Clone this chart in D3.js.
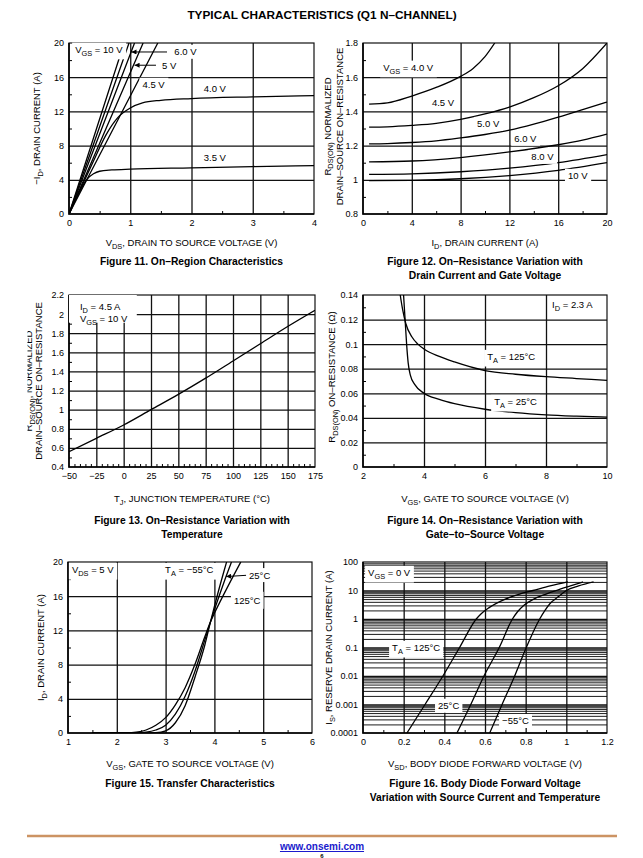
<!DOCTYPE html>
<html><head><meta charset="utf-8">
<script src="https://cdn.jsdelivr.net/npm/d3@7"></script>
<style>
body{margin:0;background:#fff}
svg{display:block}
text{font-family:"Liberation Sans",Arial,Helvetica,sans-serif;fill:#000}
</style>
</head><body>
<svg id="c" width="643" height="858"></svg>
<script>
// ---------------- DATA ----------------
// Figure 11: On-Region Characteristics  [VDS (V), -ID (A)]
const f11Vgs10 = [[0,0],[0.45,10],[0.9,20]];
const f11Vgs8  = [[0,0],[0.49,10],[0.98,20]];
const f11Vgs6  = [[0,0],[0.535,10],[1.07,20]];
const f11Vgs5  = [[0,0],[0.605,10],[1.21,20]];
const f11Vgs45 = [[0,0],[0.725,10],[1.45,20]];
const f11Vgs4  = [[0,0],[0.2,3.1],[0.4,6.2],[0.6,9.2],[0.8,11.3],[1.0,12.4],[1.2,13.0],[1.5,13.3],[2,13.5],[3,13.7],[4,13.85]];
const f11Vgs35 = [[0,0],[0.1,1.6],[0.2,3.0],[0.3,4.1],[0.4,4.7],[0.5,5.0],[0.7,5.15],[1,5.25],[2,5.4],[3,5.55],[4,5.65]];
const f11XTicks = [0,1,2,3,4], f11XLabels = ["0","1","2","3","4"];
const f11YTicks = [0,4,8,12,16,20], f11YLabels = ["0","4","8","12","16","20"];

// Figure 12: normalized RDS(on) vs ID  [ID (A), R norm]
const f12Vgs40 = [[0.5,1.443],[2,1.45],[4,1.49],[6,1.54],[8,1.605],[9,1.65],[10,1.72],[10.8,1.8]];
const f12Vgs45 = [[0.5,1.308],[2,1.31],[4,1.318],[6,1.33],[8,1.353],[10,1.385],[12,1.425],[14,1.48],[16,1.55],[18,1.65],[20,1.8]];
const f12Vgs50 = [[0.5,1.21],[2,1.212],[4,1.218],[6,1.228],[8,1.245],[10,1.265],[12,1.29],[14,1.325],[16,1.366],[18,1.41],[20,1.455]];
const f12Vgs60 = [[0.5,1.105],[4,1.11],[8,1.13],[12,1.163],[16,1.205],[18,1.232],[20,1.267]];
const f12Vgs80 = [[0.5,1.032],[4,1.035],[8,1.047],[12,1.068],[16,1.1],[20,1.147]];
const f12Vgs10 = [[0.5,0.995],[4,0.997],[8,1.006],[12,1.025],[16,1.055],[20,1.1]];
const f12XTicks = [0,4,8,12,16,20], f12XLabels = ["0","4","8","12","16","20"];
const f12YTicks = [0.8,1,1.2,1.4,1.6,1.8], f12YLabels = ["0.8","1","1.2","1.4","1.6","1.8"];

// Figure 13: normalized RDS(on) vs TJ
const f13Temp = [-50,-25,0,25,50,75,100,125,150,175];
const f13R    = [0.56,0.70,0.84,1.0,1.16,1.33,1.51,1.69,1.87,2.04];
const f13XTicks = [-50,-25,0,25,50,75,100,125,150,175];
const f13XLabels = ["\u221250","\u221225","0","25","50","75","100","125","150","175"];
const f13YTicks = [0.4,0.6,0.8,1,1.2,1.4,1.6,1.8,2,2.2];
const f13YLabels = ["0.4","0.6","0.8","1","1.2","1.4","1.6","1.8","2","2.2"];

// Figure 14: RDS(on) vs VGS  [VGS (V), R (ohm)]
const f14T125 = [[3.22,0.14],[3.3,0.128],[3.4,0.117],[3.6,0.106],[3.8,0.1],[4,0.096],[4.5,0.09],[5,0.0855],[6,0.0785],[7,0.0755],[8,0.0735],[9,0.072],[10,0.0705]];
const f14T25  = [[3.33,0.14],[3.38,0.12],[3.43,0.1],[3.48,0.085],[3.55,0.075],[3.7,0.067],[4,0.06],[4.5,0.055],[5,0.0515],[6,0.047],[7,0.0443],[8,0.0425],[9,0.0414],[10,0.0406]];
const f14XTicks = [2,4,6,8,10], f14XLabels = ["2","4","6","8","10"];
const f14YTicks = [0,0.02,0.04,0.06,0.08,0.1,0.12,0.14];
const f14YLabels = ["0","0.02","0.04","0.06","0.08","0.1","0.12","0.14"];

// Figure 15: Transfer characteristics  [VGS (V), ID (A)]
const f15Tm55 = [[1.5,0],[2.6,0],[2.8,0.03],[3.0,0.25],[3.2,1.2],[3.4,3.2],[3.6,6.5],[3.8,10.2],[3.92,13.0],[4.0,14.8],[4.2,19.0],[4.25,20]];
const f15T25  = [[1.5,0],[2.3,0],[2.6,0.1],[2.8,0.35],[3.0,0.9],[3.2,2.2],[3.4,4.3],[3.6,7.2],[3.8,10.8],[3.92,13.0],[4.0,14.4],[4.2,17.7],[4.35,20]];
const f15T125 = [[1.5,0],[2.2,0.02],[2.4,0.1],[2.6,0.35],[2.8,0.9],[3.0,1.8],[3.2,3.3],[3.4,5.3],[3.6,8.0],[3.8,11.2],[3.92,13.0],[4.0,14.0],[4.2,16.3],[4.4,18.5],[4.54,20]];
const f15XTicks = [1,2,3,4,5,6], f15XLabels = ["1","2","3","4","5","6"];
const f15YTicks = [0,4,8,12,16,20], f15YLabels = ["0","4","8","12","16","20"];

// Figure 16: Body diode  [VSD (V), IS (A)]
const f16T125 = [[0.216,1e-4],[0.305,1e-3],[0.393,1e-2],[0.475,0.1],[0.557,1],[0.58,1.5],[0.62,2.5],[0.7,5],[0.77,7.5],[0.836,10],[0.92,14.5],[1.008,20]];
const f16T25  = [[0.462,1e-4],[0.53,1e-3],[0.595,1e-2],[0.67,0.1],[0.735,1],[0.76,1.8],[0.79,3],[0.84,5],[0.9,7.5],[0.95,10],[1.02,14.5],[1.082,20]];
const f16Tm55 = [[0.623,1e-4],[0.684,1e-3],[0.746,1e-2],[0.803,0.1],[0.869,1],[0.895,2],[0.92,3.5],[0.96,6],[1.0,10],[1.06,14.5],[1.134,20]];
const f16XTicks = [0,0.2,0.4,0.6,0.8,1,1.2], f16XLabels = ["0","0.2","0.4","0.6","0.8","1","1.2"];
const f16YTicks = [1e-4,1e-3,1e-2,0.1,1,10,100];
const f16YLabels = ["0.0001","0.001","0.01","0.1","1","10","100"];

// ---------------- DRAWING ----------------
const TICK_FS = 9, LABEL_FS = 9.5, TITLE_FS = 9.5, CAP_FS = 10.3;
const svg = d3.select('#c');
const defs = svg.append('defs');
defs.append('marker').attr('id','arr').attr('viewBox','0 0 10 10').attr('refX',10).attr('refY',5)
  .attr('markerWidth',7).attr('markerHeight',5).attr('orient','auto-start-reverse').attr('markerUnits','userSpaceOnUse')
  .append('path').attr('d','M0,0L10,5L0,10Z').attr('fill','#000');

function rich(sel, str, size){
  const parts = str.split(/(_\{[^}]*\})/).filter(s=>s.length);
  let sub=false;
  parts.forEach(p=>{
    if(p.startsWith('_{')){
      sel.append('tspan').attr('dy', size*0.28).attr('font-size', size*0.78).text(p.slice(2,-1));
      sub=true;
    } else {
      const t = sel.append('tspan').text(p);
      if(sub){ t.attr('dy', -size*0.28); sub=false; }
    }
  });
  return sel;
}

let clipN = 0;
function drawChart(c){
  const g = svg.append('g');
  const x = d3.scaleLinear().domain(c.xd).range([c.L, c.R]);
  const y = (c.ylog ? d3.scaleLog() : d3.scaleLinear()).domain(c.yd).range([c.B, c.T]);
  const W = c.R - c.L, H = c.B - c.T;

  if (c.yminorGrid){
    g.append('g').attr('transform',`translate(${c.L},0)`)
      .call(d3.axisLeft(y).tickValues(c.yminorGrid).tickSize(-W).tickFormat(''))
      .call(s=>{s.select('.domain').remove(); s.selectAll('line').attr('stroke','#000').attr('stroke-width',0.9);});
  }
  g.append('g').attr('transform',`translate(0,${c.B})`)
    .call(d3.axisBottom(x).tickValues(c.xgrid).tickSize(-H).tickFormat(''))
    .call(s=>{s.select('.domain').remove(); s.selectAll('line').attr('stroke','#111').attr('stroke-width',1.3);});
  g.append('g').attr('transform',`translate(${c.L},0)`)
    .call(d3.axisLeft(y).tickValues(c.ygrid).tickSize(-W).tickFormat(''))
    .call(s=>{s.select('.domain').remove(); s.selectAll('line').attr('stroke','#111').attr('stroke-width',1.3);});
  g.append('g').attr('transform',`translate(0,${c.B})`)
    .call(d3.axisBottom(x).tickValues(c.xminor).tickSize(-3).tickFormat(''))
    .call(s=>{s.select('.domain').remove(); s.selectAll('line').attr('stroke','#000').attr('stroke-width',1);});
  if (c.yminor){
    g.append('g').attr('transform',`translate(${c.L},0)`)
      .call(d3.axisLeft(y).tickValues(c.yminor).tickSize(-3).tickFormat(''))
      .call(s=>{s.select('.domain').remove(); s.selectAll('line').attr('stroke','#000').attr('stroke-width',1);});
  }
  g.append('rect').attr('x',c.L).attr('y',c.T).attr('width',W).attr('height',H)
    .attr('fill','none').attr('stroke','#111').attr('stroke-width',1.2);
  g.append('path').attr('d',`M${c.L},${c.T}V${c.B}H${c.R}`).attr('fill','none').attr('stroke','#000').attr('stroke-width',1.6);

  g.append('g').attr('transform',`translate(0,${c.B})`)
    .call(d3.axisBottom(x).tickValues(c.xt).tickFormat((d,i)=>c.xl[i]).tickSize(0).tickPadding(6))
    .call(s=>{s.select('.domain').remove(); s.selectAll('text').attr('font-size',TICK_FS).attr('font-family',null);});
  g.append('g').attr('transform',`translate(${c.L},0)`)
    .call(d3.axisLeft(y).tickValues(c.yt).tickFormat((d,i)=>c.yl[i]).tickSize(0).tickPadding(5))
    .call(s=>{s.select('.domain').remove(); s.selectAll('text').attr('font-size',TICK_FS).attr('font-family',null);});

  const id = 'clip'+(clipN++);
  defs.append('clipPath').attr('id',id).append('rect').attr('x',c.L).attr('y',c.T).attr('width',W).attr('height',H);
  const line = d3.line().x(d=>x(d[0])).y(d=>y(d[1])).curve(d3.curveMonotoneX);
  const cg = g.append('g').attr('clip-path',`url(#${id})`);
  c.series.forEach(s=>{
    cg.append('path').attr('d',line(s)).attr('fill','none').attr('stroke','#000').attr('stroke-width',1.3);
  });

  (c.arrows||[]).forEach(a=>{
    g.append('line').attr('x1',x(a[0])).attr('y1',y(a[1])).attr('x2',x(a[2])).attr('y2',y(a[3]))
      .attr('stroke','#000').attr('stroke-width',1).attr('marker-end','url(#arr)');
  });

  (c.labels||[]).forEach(l=>{
    const lg = g.append('g');
    const rect = lg.append('rect').attr('fill','#fff');
    const lines = Array.isArray(l.t) ? l.t : [l.t];
    const texts = lines.map((t,i)=> rich(lg.append('text').attr('x',x(l.x)).attr('y',y(l.y)+i*(l.lh||11)).attr('dy','0.35em').attr('font-size',LABEL_FS), t, LABEL_FS));
    let bb = null;
    texts.forEach(t=>{const b=t.node().getBBox(); if(!bb) bb={x0:b.x,y0:b.y,x1:b.x+b.width,y1:b.y+b.height}; else {bb.x0=Math.min(bb.x0,b.x);bb.y0=Math.min(bb.y0,b.y);bb.x1=Math.max(bb.x1,b.x+b.width);bb.y1=Math.max(bb.y1,b.y+b.height);}});
    const px = l.px!=null?l.px:3, py = l.py!=null?l.py:1.5;
    let x0 = bb.x0-px, y0 = bb.y0-py, x1 = bb.x1+px, y1 = bb.y1+py;
    if (l.box){ x0 = x(l.box[0]); x1 = x(l.box[1]); y0 = y(l.box[3]); y1 = y(l.box[2]); }
    rect.attr('x',x0).attr('y',y0).attr('width',x1-x0).attr('height',y1-y0);
  });

  const cx = (c.L+c.R)/2, cy = (c.T+c.B)/2;
  rich(g.append('text').attr('x',cx).attr('y',c.B+c.tOff).attr('text-anchor','middle').attr('font-size',TITLE_FS), c.xtitle, TITLE_FS);
  c.ytitle.forEach((t,i)=>{
    const tx = g.append('text').attr('text-anchor','middle').attr('font-size',TITLE_FS)
      .attr('transform',`translate(${c.L+c.ytx[i]},${cy+(c.yty||0)}) rotate(-90)`);
    if (c.yclip && i===0) tx.attr('clip-path','url(#yclip)');
    rich(tx, t, TITLE_FS);
  });
  c.caption.forEach((t,i)=>{
    g.append('text').attr('x',cx).attr('y',c.B+c.cOff+i*13.5).attr('text-anchor','middle')
      .attr('font-size',CAP_FS).attr('font-weight','bold').text(t);
  });
  return {x,y};
}

defs.append('clipPath').attr('id','yclip').attr('clipPathUnits','userSpaceOnUse')
  .append('rect').attr('x',-200).attr('y',-4.5).attr('width',400).attr('height',50);

const range = (a,b,s)=>d3.range(a,b+s/2,s).map(v=>+v.toFixed(6));

svg.append('text').attr('x',322).attr('y',19).attr('text-anchor','middle')
  .attr('font-size',11.8).attr('font-weight','bold').text('TYPICAL CHARACTERISTICS (Q1 N\u2013CHANNEL)');

// Fig 11
drawChart({L:69,R:314,T:43,B:214,xd:[0,4],yd:[0,20],tOff:32,cOff:51,
  xt:f11XTicks,xl:f11XLabels,yt:f11YTicks,yl:f11YLabels,
  xgrid:[1,2,3],ygrid:[4,8,12,16],xminor:[0.5,1.5,2.5,3.5],yminor:[2,6,10,14,18],
  series:[f11Vgs10,f11Vgs8,f11Vgs6,f11Vgs5,f11Vgs45,f11Vgs4,f11Vgs35],
  arrows:[[1.6,18.95,1.02,18.95],[1.42,17.4,1.07,17.4]],
  labels:[{t:'V_{GS} = 10 V',x:0.1,y:19.2},{t:'6.0 V',x:1.72,y:18.95},{t:'5 V',x:1.52,y:17.4},
          {t:'4.5 V',x:1.2,y:15.1},{t:'4.0 V',x:2.2,y:14.6},{t:'3.5 V',x:2.2,y:6.55}],
  xtitle:'V_{DS}, DRAIN TO SOURCE VOLTAGE (V)',ytitle:['\u2212I_{D}, DRAIN CURRENT (A)'],ytx:[-29],
  caption:['Figure 11. On\u2013Region Characteristics']});

// Fig 12
drawChart({L:363,R:607,T:43,B:214,xd:[0,20],yd:[0.8,1.8],tOff:32,cOff:51,
  xt:f12XTicks,xl:f12XLabels,yt:f12YTicks,yl:f12YLabels,
  xgrid:[4,8,12,16],ygrid:[1,1.2,1.4,1.6],xminor:[2,6,10,14,18],yminor:[0.9,1.1,1.3,1.5,1.7],
  series:[f12Vgs40,f12Vgs45,f12Vgs50,f12Vgs60,f12Vgs80,f12Vgs10],
  labels:[{t:'V_{GS} = 4.0 V',x:1.65,y:1.655},{t:'4.5 V',x:5.65,y:1.449},{t:'5.0 V',x:9.35,y:1.326},
          {t:'6.0 V',x:12.4,y:1.239},{t:'8.0 V',x:13.8,y:1.133},{t:'10 V',x:16.8,y:1.022}],
  xtitle:'I_{D}, DRAIN CURRENT (A)',ytitle:['R_{DS(ON)} NORMALIZED','DRAIN\u2013SOURCE ON\u2013RESISTANCE'],ytx:[-32.5,-20],yty:-2,
  caption:['Figure 12. On\u2013Resistance Variation with','Drain Current and Gate Voltage']});

// Fig 13
drawChart({L:69,R:315,T:295,B:467,xd:[-50,175],yd:[0.4,2.2],tOff:35,cOff:57,
  xt:f13XTicks,xl:f13XLabels,yt:f13YTicks,yl:f13YLabels,
  xgrid:range(-25,150,25),ygrid:range(0.6,2.0,0.2),
  xminor:range(-50,175,5).filter(v=>v%25!==0),yminor:range(0.5,2.1,0.2),
  series:[f13Temp.map((t,i)=>[t,f13R[i]])],
  labels:[{t:['I_{D} = 4.5 A','V_{GS} = 10 V'],x:-40,y:2.075,lh:12,box:[-50,12,1.91,2.2]}],
  xtitle:'T_{J}, JUNCTION TEMPERATURE (\u00B0C)',ytitle:['R_{DS(ON)}, NORMALIZED','DRAIN\u2013SOURCE ON\u2013RESISTANCE'],ytx:[-37,-27],yclip:true,
  caption:['Figure 13. On\u2013Resistance Variation with','Temperature']});

// Fig 14
drawChart({L:363,R:607,T:295,B:467,xd:[2,10],yd:[0,0.14],tOff:35,cOff:57,
  xt:f14XTicks,xl:f14XLabels,yt:f14YTicks,yl:f14YLabels,
  xgrid:[4,6,8],ygrid:range(0.02,0.12,0.02),xminor:[3,5,7,9],yminor:range(0.01,0.13,0.02),
  series:[f14T125,f14T25],
  labels:[{t:'I_{D} = 2.3 A',x:8.2,y:0.132},{t:'T_{A} = 125\u00B0C',x:6.07,y:0.0895},{t:'T_{A} = 25\u00B0C',x:6.3,y:0.0529}],
  xtitle:'V_{GS}, GATE TO SOURCE VOLTAGE (V)',ytitle:['R_{DS(ON)} ON\u2013RESISTANCE (\u03A9)'],ytx:[-28],yty:-4,
  caption:['Figure 14. On\u2013Resistance Variation with','Gate\u2013to\u2013Source Voltage']});

// Fig 15
drawChart({L:68,R:312,T:562,B:733,xd:[1,6],yd:[0,20],tOff:34,cOff:54,
  xt:f15XTicks,xl:f15XLabels,yt:f15YTicks,yl:f15YLabels,
  xgrid:[2,3,4,5],ygrid:[4,8,12,16],xminor:[1.5,2.5,3.5,4.5,5.5],yminor:[2,6,10,14,18],
  series:[f15Tm55,f15T25,f15T125],
  arrows:[[4.67,18.45,4.24,18.3]],
  labels:[{t:'V_{DS} = 5 V',x:1.08,y:19.05},{t:'T_{A} = \u221255\u00B0C',x:2.99,y:19.05},
          {t:'25\u00B0C',x:4.71,y:18.45},{t:'125\u00B0C',x:4.4,y:15.5,py:3}],
  xtitle:'V_{GS}, GATE TO SOURCE VOLTAGE (V)',ytitle:['I_{D}, DRAIN CURRENT (A)'],ytx:[-24],
  caption:['Figure 15. Transfer Characteristics']});

// Fig 16
const decades = [1e-4,1e-3,1e-2,1e-1,1,10];
drawChart({L:363,R:607,T:562,B:733,xd:[0,1.2],yd:[1e-4,100],ylog:true,tOff:34,cOff:54,
  xt:f16XTicks,xl:f16XLabels,yt:f16YTicks,yl:f16YLabels,
  xgrid:[0.2,0.4,0.6,0.8,1.0],ygrid:[1e-3,1e-2,0.1,1,10],
  yminorGrid:decades.flatMap(d=>[2,3,4,5,6,7,8,9].map(m=>d*m)),
  xminor:[0.1,0.3,0.5,0.7,0.9,1.1],
  series:[f16T125,f16T25,f16Tm55],
  labels:[{t:'V_{GS} = 0 V',x:0.025,y:41},{t:'T_{A} = 125\u00B0C',x:0.143,y:0.096},
          {t:'25\u00B0C',x:0.369,y:8.9e-4},{t:'\u221255\u00B0C',x:0.684,y:2.6e-4}],
  xtitle:'V_{SD}, BODY DIODE FORWARD VOLTAGE (V)',ytitle:['I_{S}, RESERVE DRAIN CURRENT (A)'],ytx:[-31],
  caption:['Figure 16. Body Diode Forward Voltage','Variation with Source Current and Temperature']});

// Footer
svg.append('line').attr('x1',27).attr('x2',617).attr('y1',836).attr('y2',836)
  .attr('stroke','#cc9363').attr('stroke-width',2.5);
svg.append('text').attr('x',322).attr('y',850).attr('text-anchor','middle').attr('font-size',10)
  .attr('font-weight','bold').style('fill','#1a1acc').attr('text-decoration','underline').text('www.onsemi.com');
svg.append('text').attr('x',322).attr('y',857.5).attr('text-anchor','middle').attr('font-size',6).attr('font-weight','bold').text('6');
</script>
</body></html>
